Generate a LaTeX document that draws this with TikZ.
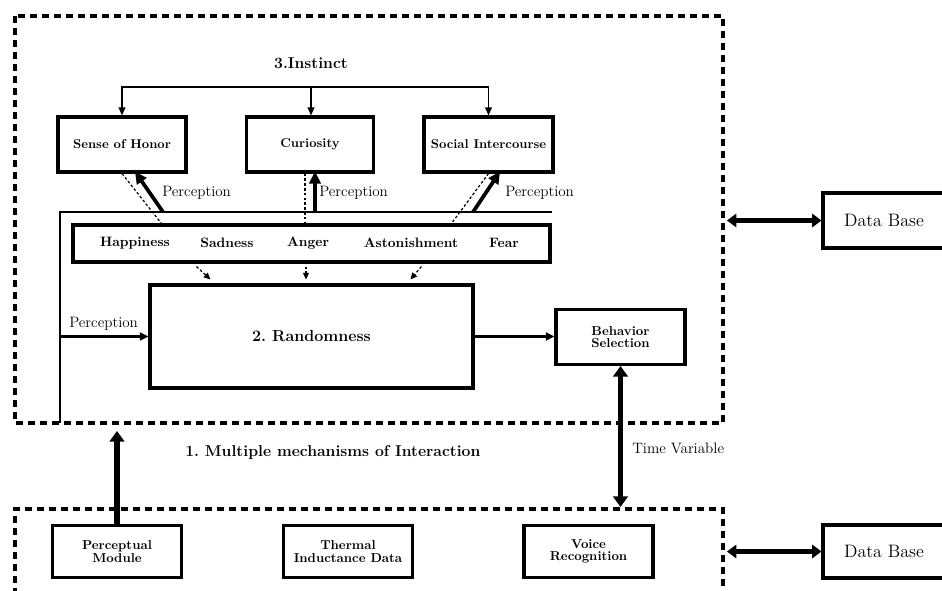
\documentclass[tikz,border=0pt]{standalone}
\usepackage{fontspec}
\usepackage{tikz}
\usetikzlibrary{arrows.meta,calc}

\begin{document}
\begin{tikzpicture}[x=0.75pt,y=0.75pt,yscale=-1,xscale=1,
    blk/.style={draw,line width=2.3pt,inner sep=1pt,align=center,font=\fontsize{9.6}{11}\selectfont\bfseries},
    smallblk/.style={blk,font=\fontsize{9.7}{9.5}\selectfont\bfseries},
    frame/.style={line width=2.3pt,dash pattern=on 5.5pt off 3.5pt},
    feed/.style={line width=1.1pt,-{Triangle[length=6pt,width=5pt]}},
    link/.style={line width=1.9pt,-{Triangle[length=6.5pt,width=6pt]}},
    percarrow/.style={line width=2.8pt,-{Triangle[length=9pt,width=8.5pt]}},
    emo/.style={line width=0.9pt,dash pattern=on 2pt off 1.6pt},
    emoarrow/.style={emo,-{Triangle[length=5pt,width=4.5pt]}},
    bus/.style={line width=2.2pt},
    bigarrow/.style={line width=4.2pt,-{Triangle[length=8pt,width=11pt]}},
    dbarrow/.style={line width=3.6pt,{Triangle[length=7pt,width=10pt]}-{Triangle[length=7pt,width=10pt]}},
    lbl/.style={font=\fontsize{11.3}{13}\selectfont,inner sep=0pt},
    emotxt/.style={font=\fontsize{10.2}{11}\selectfont\bfseries,inner sep=0pt},
  ]
    \useasboundingbox (0,0) rectangle (942,591);

    %Dashed frames
    \draw[frame] (15,16) rectangle (723,423);
    \draw[frame] (15,595) -- (15,509) -- (723,509) -- (723,595);

    % Instinct
    \node[font=\fontsize{11.8}{13}\selectfont\bfseries,inner sep=0pt] (instinct) at (311,63) {3.Instinct};
    \node[blk,minimum width=96pt,minimum height=41.25pt] (honor) at (122,144.5) {Sense of Honor};
    \node[blk,minimum width=95.25pt,minimum height=41.25pt] (curio) at (310,144.5) {Curiosity};
    \node[blk,minimum width=96.75pt,minimum height=41.25pt] (social) at (488.5,144.5) {Social Intercourse};
    \coordinate (fork) at (311,87);
    \draw[feed] (fork) -| (honor.north);
    \draw[feed] (fork) -| (social.north);
    \draw[feed] (fork) -- (fork |- curio.north);

    % Emotions
    \node[draw,line width=2.3pt,minimum width=357.75pt,minimum height=27.75pt] (bar) at (311.5,243.5) {};
    \node[emotxt] (happy) at (135,243) {Happiness};
    \node[emotxt] (sad) at (227,243) {Sadness};
    \node[emotxt] (anger) at (308,243) {Anger};
    \node[emotxt] (aston) at (411,243) {Astonishment};
    \node[emotxt] (fear) at (504,243) {Fear};

    % Perception bus
    \coordinate (busL) at (60,423);
    \coordinate (busR) at (552,212);
    \draw[bus] (busL) |- (busR);
    \draw[percarrow] (163,212) -- ($(honor.south)+(13,-2)$);
    \draw[percarrow] (315,212) -- ($(curio.south)+(5,-2)$);
    \draw[percarrow] (473,212) -- ($(social.south)+(11.5,-2)$);
    \draw[emo] (honor.south) -- ($(bar.north west)+(90,0)$);
    \draw[emo] ($(curio.south)+(-5,0)$) -- ($(bar.north)+(-6.5,0)$);
    \draw[emo] (social.south) -- ($(bar.north west)+(380,0)$);
    \node[lbl,anchor=west] (perc1) at (162,193) {Perception};
    \node[lbl,anchor=west] (perc2) at (319,193) {Perception};
    \node[lbl,anchor=west] (perc3) at (505,193) {Perception};

    % Randomness
    \node[blk,minimum width=242.25pt,minimum height=77.25pt,font=\fontsize{12}{14}\selectfont\bfseries] (random) at (311.5,336.5) {2.\ Randomness};
    \draw[emoarrow] ($(bar.south west)+(125,3)$) -- ($(random.north west)+(62,-4)$);
    \draw[emoarrow] ($(bar.south)+(-5.5,3)$) -- ($(random.north)+(-5.5,-4)$);
    \draw[emoarrow] ($(bar.south west)+(350,3)$) -- ($(random.north west)+(262,-4)$);
    \draw[link] (random.west -| busL) -- (random.west);
    \node[lbl,anchor=west] (perc0) at (69,324) {Perception};

    % Behavior selection
    \node[smallblk,minimum width=96.75pt,minimum height=41.25pt] (behav) at (620.5,337) {Behavior\\Selection};
    \draw[link] (random.east) -- (random.east -| behav.west);

    % Interaction
    \node[font=\fontsize{11.8}{13}\selectfont\bfseries,inner sep=0pt,anchor=west] (multi) at (185,453) {1.\ Multiple mechanisms of Interaction};
    \coordinate (tvend) at (620.5,507);
    \draw[bigarrow,{Triangle[length=8pt,width=11pt]}-{Triangle[length=8pt,width=11pt]}] (behav.south) -- (tvend);
    \node[lbl,anchor=west] (timevar) at (632,448) {Time Variable};

    % Bottom modules
    \node[smallblk,minimum width=96.75pt,minimum height=39pt] (percep) at (117,551.5) {Perceptual\\Module};
    \node[smallblk,minimum width=96.75pt,minimum height=39pt] (thermal) at (348,551.5) {Thermal\\Inductance Data};
    \node[smallblk,minimum width=96.75pt,minimum height=39pt] (voice) at (588.5,551.5) {Voice\\Recognition};
    \coordinate (pmend) at (117,431);
    \draw[bigarrow] (percep.north) -- (pmend);

    % Data bases
    \node[draw,line width=2.3pt,minimum width=91.5pt,minimum height=41.25pt,font=\fontsize{13.5}{15}\selectfont] (db1) at (884,220.5) {Data Base};
    \node[draw,line width=2.3pt,minimum width=91.5pt,minimum height=39.75pt,font=\fontsize{13.5}{15}\selectfont] (db2) at (884,551.5) {Data Base};
    \coordinate (dbL1) at (727,220.5);
    \coordinate (dbL2) at (727,551.5);
    \draw[dbarrow] (dbL1) -- (db1.west);
    \draw[dbarrow] (dbL2) -- (db2.west);
\end{tikzpicture}
\end{document}
